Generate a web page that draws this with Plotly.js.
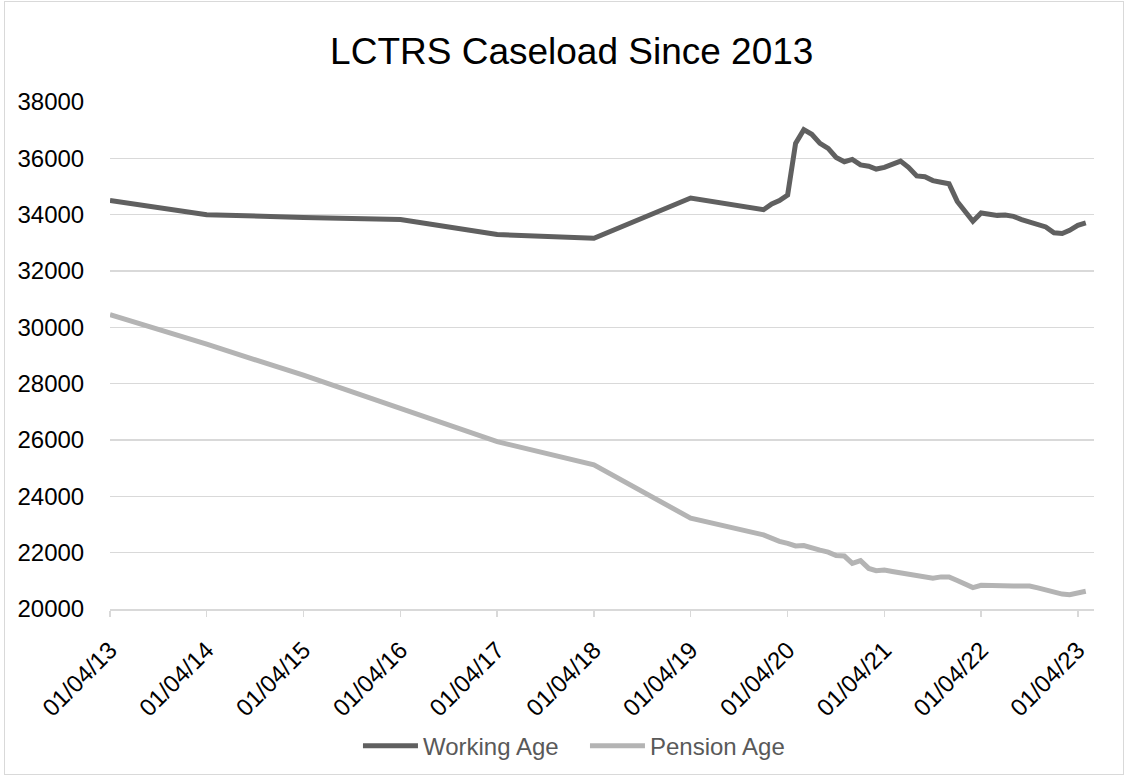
<!DOCTYPE html>
<html>
<head>
<meta charset="utf-8">
<script src="https://cdn.plot.ly/plotly-3.0.1.min.js"></script>
<style>
  html, body { margin: 0; padding: 0; background: #fff; }
  #chart { width: 1130px; height: 780px; position: absolute; left: 0; top: 0; }
  #frame { position: absolute; left: 4px; top: 1px; width: 1118px; height: 772px; border: 1px solid #d9d9d9; pointer-events: none; }
</style>
</head>
<body>
<div id="chart"></div>
<div id="frame"></div>
<script>
const dates = [
  '2013-04-01','2014-04-01','2015-04-01','2016-04-01','2017-04-01','2018-04-01','2019-04-01',
  '2020-01-01','2020-02-01','2020-03-01','2020-04-01',
  '2020-05-01','2020-06-01','2020-07-01','2020-08-01','2020-09-01','2020-10-01','2020-11-01','2020-12-01',
  '2021-01-01','2021-02-01','2021-03-01','2021-04-01','2021-05-01','2021-06-01','2021-07-01','2021-08-01',
  '2021-09-01','2021-10-01','2021-11-01','2021-12-01','2022-01-01','2022-02-01','2022-03-01','2022-04-01',
  '2022-05-01','2022-06-01','2022-07-01','2022-08-01','2022-09-01','2022-10-01','2022-11-01','2022-12-01',
  '2023-01-01','2023-02-01','2023-03-01','2023-04-01','2023-05-01'
];
const workingAge = [
  34500, 34000, 33900, 33830, 33295, 33160, 34590,
  34175, 34380, 34500, 34700,
  36530, 37020, 36855, 36530, 36350, 36030, 35880, 35960,
  35765, 35720, 35620, 35680, 35800, 35900, 35680, 35375,
  35350, 35210, 35150, 35095, 34470, 34120, 33765, 34060,
  34000, 33975, 33990, 33940, 33825, 33740, 33680, 33565,
  33355, 33330, 33445, 33620, 33705
];
const pensionAge = [
  30450, 29400, 28300, 27120, 25940, 25115, 23225,
  22630, 22500, 22400, 22330,
  22240, 22250, 22155, 22090, 22020, 21900, 21880, 21620,
  21715, 21440, 21360, 21380, 21330, 21285, 21240, 21200,
  21150, 21090, 21140, 21140, 21010, 20900, 20760, 20840,
  20830, 20820, 20790, 20815, 20820, 20815, 20750, 20670,
  20575, 20530, 20510, 20580, 20630
];
const xTickVals = ['2013-04-01','2014-04-01','2015-04-01','2016-04-01','2017-04-01','2018-04-01',
  '2019-04-01','2020-04-01','2021-04-01','2022-04-01','2023-04-01'];
const xTickText = ['01/04/13','01/04/14','01/04/15','01/04/16','01/04/17','01/04/18',
  '01/04/19','01/04/20','01/04/21','01/04/22','01/04/23'];
const yTickVals = [20000, 22000, 24000, 26000, 28000, 30000, 32000, 34000, 36000, 38000];
const yTickText = ['20000','22000','24000','26000','28000','30000','32000','34000','36000','38000'];

const FONT = 'Liberation Sans, Arial, sans-serif';

const traces = [
  { x: dates, y: workingAge, name: 'Working Age', type: 'scatter', mode: 'lines',
    line: { color: '#606060', width: 5 } },
  { x: dates, y: pensionAge, name: 'Pension Age', type: 'scatter', mode: 'lines',
    line: { color: '#b4b4b4', width: 5 } }
];

const layout = {
  width: 1130, height: 780,
  margin: { l: 110, r: 36, t: 102, b: 170 },
  paper_bgcolor: '#ffffff', plot_bgcolor: '#ffffff',
  font: { family: FONT, color: '#000000', size: 24 },
  title: { text: 'LCTRS Caseload Since 2013', x: 0.506, xref: 'container', xanchor: 'center',
           y: 47, yref: 'container', yanchor: 'middle',
           font: { family: FONT, size: 37, color: '#000000' } },
  xaxis: {
    type: 'date', range: ['2013-04-01', '2023-06-01'],
    tickmode: 'array', tickvals: xTickVals, ticktext: xTickText,
    tickangle: -45, showgrid: false, zeroline: false,
    showline: true, linecolor: '#d9d9d9', linewidth: 1.5,
    ticks: 'outside', ticklen: 6, tickcolor: '#d9d9d9', tickwidth: 1.5,
    ticklabelstandoff: 10,
    tickfont: { family: FONT, size: 24, color: '#000000' }
  },
  yaxis: {
    range: [20000, 38000], tickmode: 'array', tickvals: yTickVals, ticktext: yTickText,
    showgrid: true, gridcolor: '#d9d9d9', gridwidth: 1.5, zeroline: false,
    showline: false, ticks: 'outside', ticklen: 20, tickcolor: 'rgba(0,0,0,0)',
    tickfont: { family: FONT, size: 24, color: '#000000' }
  },
  showlegend: true,
  legend: {
    orientation: 'h', x: 0.252, xanchor: 'left', y: -0.268, yanchor: 'middle',
    font: { family: FONT, size: 24, color: '#595959' },
    itemwidth: 55, entrywidth: 157, entrywidthmode: 'pixels',
    bgcolor: 'rgba(0,0,0,0)', borderwidth: 0
  }
};

Plotly.newPlot('chart', traces, layout, { displayModeBar: false, staticPlot: true });
</script>
</body>
</html>
